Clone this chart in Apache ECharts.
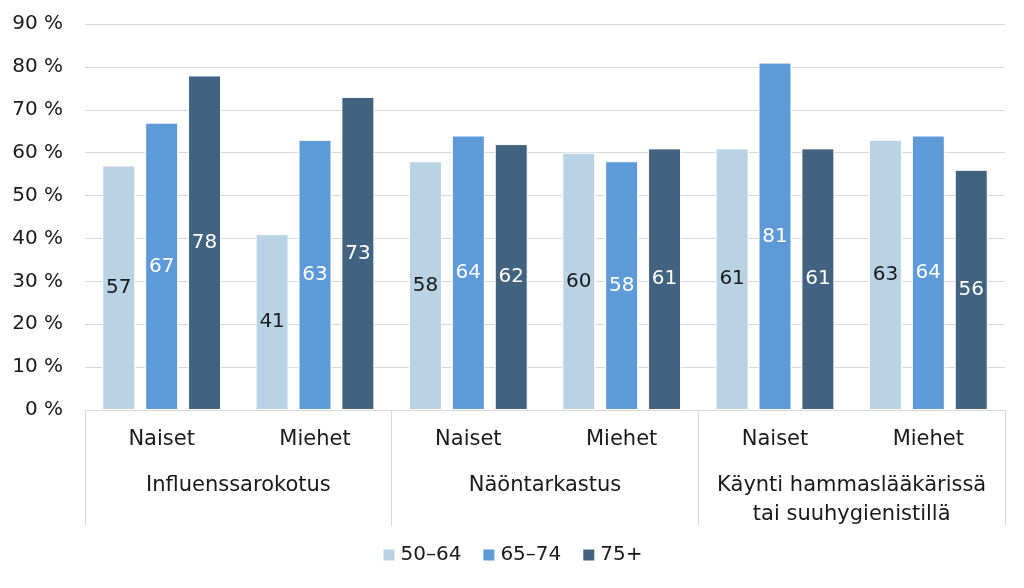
<!DOCTYPE html>
<html><head><meta charset="utf-8">
<script src="https://cdn.jsdelivr.net/npm/echarts@6/dist/echarts.min.js"></script>
<style>html,body{margin:0;padding:0;background:#fff}#c{width:1024px;height:588px}</style>
</head><body><div id="c"></div>
<script>
const subCategories = ['Naiset','Miehet','Naiset','Miehet','Naiset','Miehet'];
const groups = ['Influenssarokotus','Näöntarkastus','Käynti hammaslääkärissä\ntai suuhygienistillä'];
const seriesNames = ['50–64','65–74','75+'];
const s5064 = [57, 41, 58, 60, 61, 63];
const s6574 = [67, 63, 64, 58, 81, 64];
const s75 = [78, 73, 62, 61, 61, 56];
const yTicks = [0,10,20,30,40,50,60,70,80,90];
const colors = ['#b9d3e4','#5f9ad8','#41637f'];
const font = '"DejaVu Sans", sans-serif';

const chart = echarts.init(document.getElementById('c'));
const mk = (name, data, i) => ({
  name, type:'bar', data, xAxisIndex:0, barWidth:33, barGap:'30%',
  itemStyle:{color:colors[i], borderColor:'#fff', borderWidth:1},
  label:{show:true, position:'inside', color: i===0 ? '#1a1a1a' : '#fff', fontSize:20, fontFamily:font},
  emphasis:{disabled:true}
});
chart.setOption({
  animation:false,
  textStyle:{fontFamily:font},
  grid:{left:85, right:19, top:24, bottom:178, containLabel:false},
  legend:{bottom:18, left:'center', itemWidth:13, itemHeight:13, itemGap:20, icon:'rect',
    textStyle:{fontSize:20, color:'#1a1a1a', fontFamily:font}, data:seriesNames},
  xAxis:[
    {type:'category', data:subCategories, position:'bottom',
     axisLine:{show:true, lineStyle:{color:'#d9d9d9'}}, axisTick:{show:false},
     axisLabel:{interval:0, fontSize:21, color:'#1a1a1a', margin:19, fontFamily:font}},
    {type:'category', data:groups, position:'bottom',
     axisLine:{show:false}, axisTick:{show:true, interval:0, length:116, lineStyle:{color:'#d9d9d9'}},
     axisLabel:{interval:0, fontSize:21, color:'#1a1a1a', margin:61, lineHeight:29, verticalAlign:'top', fontFamily:font}}
  ],
  yAxis:{type:'value', min:0, max:90, interval:10,
    axisLabel:{formatter: v => v + ' %', fontSize:20, color:'#1a1a1a', margin:22, fontFamily:font},
    splitLine:{lineStyle:{color:'#d9d9d9'}}, axisLine:{show:false}, axisTick:{show:false}},
  series:[mk(seriesNames[0], s5064, 0), mk(seriesNames[1], s6574, 1), mk(seriesNames[2], s75, 2)]
});
</script></body></html>
